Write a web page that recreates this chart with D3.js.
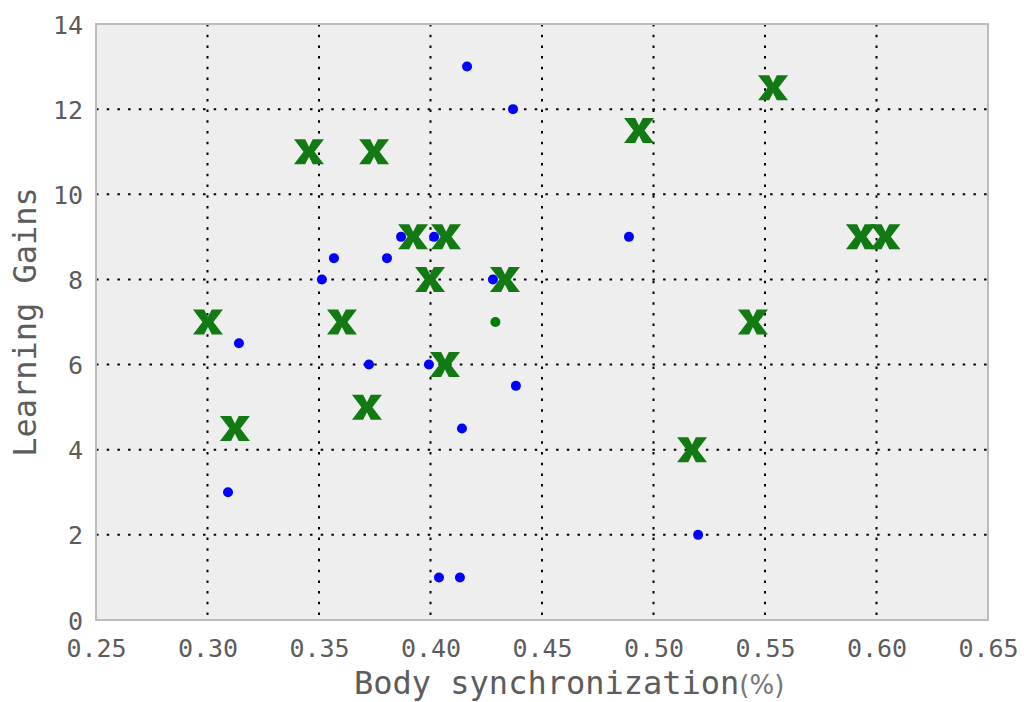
<!DOCTYPE html>
<html><head><meta charset="utf-8">
<script src="https://cdn.jsdelivr.net/npm/d3@7"></script>
<style>body{margin:0;background:#fff}svg{display:block}</style>
</head><body><svg id="c" width="1024" height="702"></svg>
<script>
const xTicks = [0.25,0.30,0.35,0.40,0.45,0.50,0.55,0.60,0.65];
const yTicks = [0,2,4,6,8,10,12,14];
const blueX = [0.4164,0.437,0.489,0.3868,0.4016,0.3567,0.3805,0.3513,0.428,0.3141,0.3724,0.3993,0.4383,0.4141,0.3092,0.520,0.4038,0.4132];
const blueY = [13,12,9,9,9,8.5,8.5,8,8,6.5,6,6,5.5,4.5,3,2,1,1];
const greenDotX = [0.4291];
const greenDotY = [7];
const crossX = [0.3002,0.3123,0.3455,0.3747,0.3603,0.3715,0.3922,0.407,0.3998,0.4334,0.4065,0.4935,0.5536,0.5446,0.5173,0.593,0.604];
const crossY = [7,4.5,11,11,7,5,9,9,8,8,6,11.5,12.5,7,4,9,9];

const L=96,R=988,T=24,B=620;
const svg=d3.select("#c");
const x=d3.scaleLinear().domain([0.25,0.65]).range([L,R]);
const y=d3.scaleLinear().domain([0,14]).range([B,T]);

svg.append("rect").attr("x",L).attr("y",T).attr("width",R-L).attr("height",B-T).attr("fill","#eeeeee");

// grid
const g=svg.append("g");
g.selectAll(".vg").data(xTicks.slice(1,-1)).join("line")
 .attr("x1",d=>x(d)).attr("x2",d=>x(d)).attr("y1",T).attr("y2",B)
 .attr("stroke","#000").attr("stroke-width",2).attr("stroke-dasharray","2.5,8.2");
g.selectAll(".hg").data(yTicks.slice(1,-1)).join("line")
 .attr("y1",d=>y(d)).attr("y2",d=>y(d)).attr("x1",L).attr("x2",R)
 .attr("stroke","#000").attr("stroke-width",2).attr("stroke-dasharray","2.5,8.2");

// axes with d3 axis generators for labels
const fontMono="'DejaVu Sans Mono', monospace";
const xa=svg.append("g").attr("transform",`translate(0,${B})`)
 .call(d3.axisBottom(x).tickValues(xTicks).tickFormat(d3.format(".2f")).tickSize(0).tickPadding(19));
const ya=svg.append("g").attr("transform",`translate(${L},0)`)
 .call(d3.axisLeft(y).tickValues(yTicks).tickFormat(d3.format("d")).tickSize(0).tickPadding(13));
[xa,ya].forEach(a=>{
  a.select(".domain").remove();
  a.selectAll("text").attr("font-family",fontMono).attr("font-size",25).attr("fill","#5c5c5c");
});
ya.selectAll("text").attr("dy","0.36em");

// spines
svg.append("rect").attr("x",L).attr("y",T).attr("width",R-L).attr("height",B-T)
 .attr("fill","none").attr("stroke","#bcbcbc").attr("stroke-width",2);

// points
const blue=blueX.map((v,i)=>[v,blueY[i]]);
svg.append("g").selectAll("circle").data(blue).join("circle")
 .attr("cx",d=>x(d[0])).attr("cy",d=>y(d[1])).attr("r",5).attr("fill","#0000ff");
const gd=greenDotX.map((v,i)=>[v,greenDotY[i]]);
svg.append("g").selectAll("circle").data(gd).join("circle")
 .attr("cx",d=>x(d[0])).attr("cy",d=>y(d[1])).attr("r",5).attr("fill","#008000");

const crossPath="M-15,-12.5L-3.8,-12.5L0,-5L3.8,-12.5L15,-12.5L5.5,0L15,12.5L3.8,12.5L0,5L-3.8,12.5L-15,12.5L-5.5,0Z";
const cr=crossX.map((v,i)=>[v,crossY[i]]);
svg.append("g").selectAll("path").data(cr).join("path")
 .attr("d",crossPath).attr("transform",d=>`translate(${x(d[0])},${y(d[1])})`)
 .attr("fill","#127a12");

// labels
svg.append("text").attr("transform",`translate(36,${(T+B)/2}) rotate(-90)`)
 .attr("text-anchor","middle").attr("font-family",fontMono).attr("font-size",32).attr("fill","#5c5c5c")
 .text("Learning Gains");
const xl=svg.append("text").attr("x",354).attr("y",694).attr("font-family",fontMono).attr("font-size",32).attr("fill","#5c5c5c");
xl.append("tspan").text("Body synchronization");
xl.append("tspan").attr("font-family","'DejaVu Sans', sans-serif").attr("font-size",26).attr("fill","#777").text("(%)");
</script></body></html>
